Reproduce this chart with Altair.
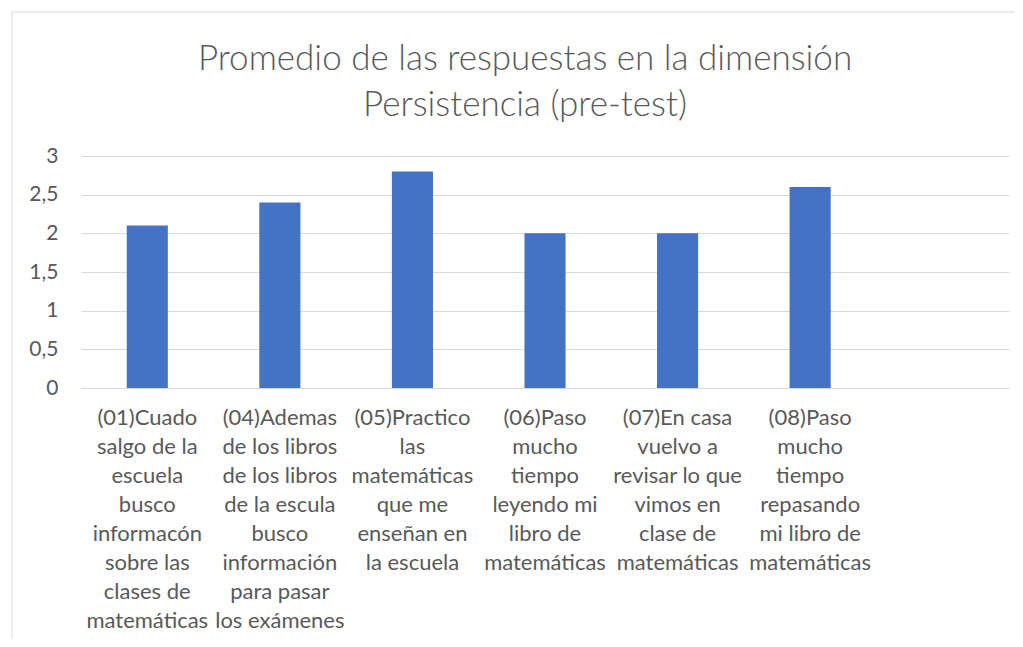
import altair as alt
import pandas as pd

categories = [
    "(01)Cuado|salgo de la|escuela|busco|informacón|sobre las|clases de|matemáticas",
    "(04)Ademas|de los libros|de los libros|de la escula|busco|información|para pasar|los exámenes",
    "(05)Practico|las|matemáticas|que me|enseñan en|la escuela",
    "(06)Paso|mucho|tiempo|leyendo mi|libro de|matemáticas",
    "(07)En casa|vuelvo a|revisar lo que|vimos en|clase de|matemáticas",
    "(08)Paso|mucho|tiempo|repasando|mi libro de|matemáticas",
]
empty_slot = ["(vacío)"]
values = [2.1, 2.4, 2.8, 2.0, 2.0, 2.6]
y_ticks = [0, 0.5, 1, 1.5, 2, 2.5, 3]

df = pd.DataFrame({"cat": categories, "val": values})

FONT = "Lato"
GREY = "#595959"
GRID = "#d9d9d9"

domain = categories + empty_slot
p_in = 0.69

bars = alt.Chart(df).mark_bar(color="#4472C4").encode(
    x=alt.X(
        "cat:N",
        sort=domain,
        scale=alt.Scale(domain=domain, paddingInner=p_in, paddingOuter=p_in / 2),
        axis=alt.Axis(
            title=None,
            labelAngle=0,
            labelExpr="datum.value == '(vacío)' ? '' : split(datum.value, '|')",
            labelFont=FONT,
            labelFontSize=22,
            labelColor=GREY,
            labelLineHeight=29,
            labelPadding=19,
            labelLimit=200,
            ticks=False,
            domainColor=GRID,
            domainWidth=1,
        ),
    ),
    y=alt.Y(
        "val:Q",
        scale=alt.Scale(domain=[0, 3], nice=False),
        axis=alt.Axis(
            title=None,
            values=y_ticks,
            labelExpr="replace(format(datum.value, '~g'), '.', ',')",
            labelFont=FONT,
            labelFontSize=21,
            labelColor=GREY,
            labelPadding=23,
            ticks=False,
            domain=False,
            gridColor=GRID,
            gridWidth=1,
        ),
    ),
)

frame_df = pd.DataFrame({"k": [0]})
frame_left = alt.Chart(frame_df).mark_rule(color=GRID, strokeWidth=1, clip=False).encode(
    x=alt.value(-69), y=alt.value(-144), y2=alt.value(490)
)
frame_top = alt.Chart(frame_df).mark_rule(color=GRID, strokeWidth=1, clip=False).encode(
    x=alt.value(-69), x2=alt.value(934), y=alt.value(-144)
)

chart = alt.layer(frame_left, frame_top, bars).properties(
    width=928,
    height=232,
    background="white",
    autosize=alt.AutoSizeParams(type="none"),
    padding={"left": 73, "top": 148, "right": 6, "bottom": 251},
    title=alt.Title(
        ["Promedio de las respuestas en la dimensión", "Persistencia (pre-test)"],
        font=FONT,
        fontSize=35,
        fontWeight=300,
        color=GREY,
        lineHeight=46,
        anchor="middle",
        frame="group",
        dx=-20,
        offset=-111,
    ),
).configure_view(stroke=None)

chart.save("out.html", embed_options={"renderer": "svg", "actions": False})
